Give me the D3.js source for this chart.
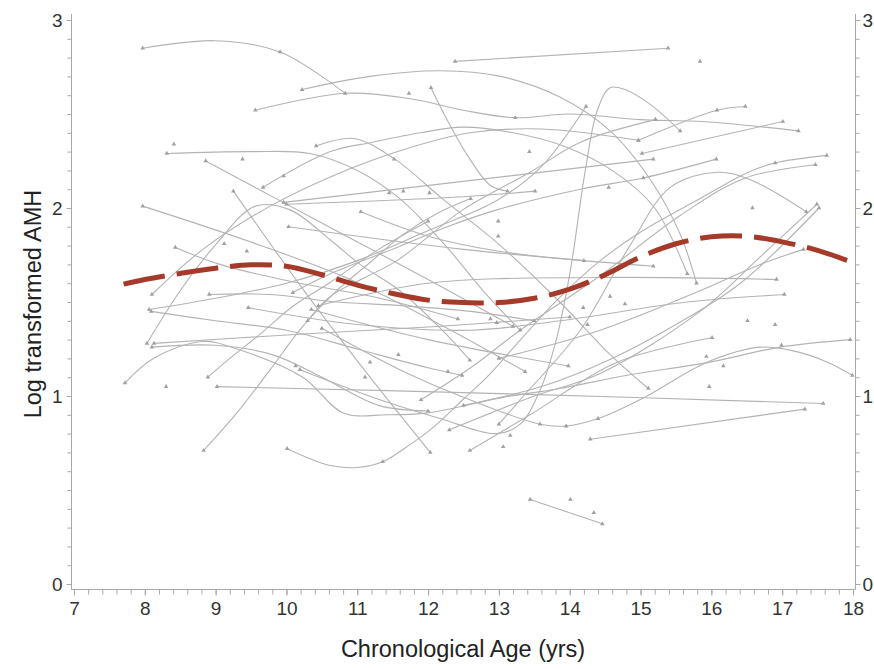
<!DOCTYPE html>
<html>
<head>
<meta charset="utf-8">
<script src="https://cdn.jsdelivr.net/npm/d3@7"></script>
<style>
  body { margin: 0; background: #fff; }
  text { font-family: "Liberation Sans", Arial, sans-serif; }
</style>
</head>
<body>
<div id="root"></div>
<script>
const width = 874;
const height = 669;

// individual subject trajectories: [age (yrs), log AMH]
const subjects = [
	[[7.97, 2.85], [8.99, 2.89], [9.91, 2.83], [10.83, 2.61]],
	[[12.38, 2.78], [15.39, 2.85]],
	[[10.22, 2.63], [11.18, 2.70], [12.17, 2.73], [13.02, 2.70], [13.86, 2.59], [14.57, 2.41], [15.14, 2.15], [15.56, 1.86], [15.79, 1.60]],
	[[9.56, 2.52], [10.83, 2.61], [11.77, 2.58], [12.5, 2.52], [13.23, 2.48], [14.0, 2.50], [14.99, 2.47], [15.88, 2.46], [17.23, 2.41]],
	[[12.04, 2.64], [12.31, 2.44], [12.59, 2.26], [12.88, 2.12], [13.12, 2.09]],
	[[10.19, 1.14], [11.32, 0.98], [12.17, 0.88], [12.97, 0.80], [13.30, 0.85], [13.58, 1.03], [13.81, 1.30], [14.01, 1.67], [14.22, 2.20], [14.39, 2.52], [14.57, 2.64], [14.78, 2.63], [15.14, 2.55], [15.56, 2.41]],
	[[10.01, 0.72], [10.62, 0.63], [11.0, 0.62], [11.36, 0.65], [11.70, 0.73], [12.03, 0.82], [12.49, 0.98], [12.83, 1.10], [13.26, 1.28], [13.82, 1.51], [14.43, 1.72], [14.99, 1.87], [15.84, 2.05], [16.52, 2.19], [16.90, 2.24], [17.63, 2.28]],
	[[9.02, 1.05], [13.3, 1.01], [17.58, 0.96]],
	[[14.29, 0.77], [17.32, 0.93]],
	[[10.5, 1.36], [11.6, 1.14], [12.59, 0.98], [13.58, 0.85], [13.94, 0.84], [14.40, 0.88], [15.04, 0.99], [15.94, 1.18], [16.69, 1.26], [17.16, 1.24], [17.64, 1.18], [17.99, 1.11]],
	[[7.72, 1.07], [8.12, 1.20], [8.82, 1.29], [9.30, 1.25], [10.23, 1.10], [10.80, 0.91], [11.42, 0.90], [12.0, 0.91], [13.02, 0.99], [13.86, 1.04], [14.81, 1.11], [15.98, 1.18], [16.97, 1.26], [17.96, 1.30]],
	[[12.59, 0.71], [13.44, 0.90], [14.67, 1.18], [16.01, 1.31]],
	[[10.42, 2.33], [10.95, 2.37], [11.53, 2.26], [12.2, 2.05], [13.02, 1.80], [13.86, 1.50], [14.57, 1.22], [15.11, 1.04]],
	[[11.9, 0.98], [12.6, 1.15], [13.3, 1.35], [14.43, 1.64], [15.56, 1.96], [16.48, 2.16], [17.47, 2.23]],
	[[13.0, 0.85], [13.30, 0.98], [14.15, 1.35], [14.85, 1.80], [15.42, 2.11], [16.08, 2.19], [16.55, 2.15], [17.34, 1.98]],
	[[12.3, 0.82], [13.5, 1.0], [14.43, 1.12], [15.84, 1.45], [16.69, 1.74], [17.49, 2.02]],
	[[12.5, 0.95], [13.6, 1.05], [14.6, 1.2], [15.5, 1.38], [16.41, 1.6], [17.52, 2.0]],
	[[10.09, 1.55], [10.62, 1.65], [11.56, 1.79], [12.27, 1.90], [12.97, 1.99], [14.15, 2.10], [15.04, 2.16], [16.07, 2.26]],
	[[15.02, 2.29], [17.01, 2.46]],
	[[13.0, 1.2], [14.43, 1.35], [15.84, 1.56], [16.69, 1.70], [17.30, 1.78]],
	[[10.03, 1.90], [12.5, 1.78], [15.18, 1.69]],
	[[10.45, 1.48], [12.0, 1.60], [14.4, 1.63], [16.92, 1.62]],
	[[9.46, 1.47], [11.0, 1.38], [12.59, 1.35], [13.86, 1.40], [15.66, 1.50], [17.03, 1.54]],
	[[9.25, 2.09], [10.23, 1.57], [11.18, 1.10], [12.03, 0.70]],
	[[7.97, 2.01], [9.49, 1.82], [10.90, 1.62], [12.17, 1.38], [13.37, 1.13]],
	[[8.43, 1.79], [9.06, 1.70], [10.05, 1.61], [11.32, 1.52], [12.42, 1.41]],
	[[8.03, 1.28], [8.50, 1.56], [8.99, 1.80], [9.56, 2.01], [10.05, 1.99], [10.62, 1.83], [11.04, 1.70], [11.60, 1.56], [12.2, 1.35], [12.59, 1.19]],
	[[8.31, 2.29], [9.5, 2.30], [10.33, 2.29], [11.0, 2.2], [11.6, 2.05], [12.2, 1.82], [12.8, 1.55], [13.3, 1.35]],
	[[8.86, 2.25], [10.5, 1.92], [12.0, 1.62], [13.2, 1.37]],
	[[9.67, 2.11], [10.62, 2.30], [11.22, 2.35], [11.89, 2.40], [12.49, 2.43], [13.20, 2.40], [13.91, 2.33], [14.6, 2.2], [15.2, 2.0], [15.66, 1.65]],
	[[8.10, 1.54], [8.82, 1.78], [9.77, 2.01], [10.71, 2.18], [11.65, 2.31], [12.59, 2.40], [13.6, 2.42], [14.97, 2.36]],
	[[14.97, 2.36], [16.08, 2.52], [16.48, 2.54]],
	[[9.96, 2.03], [15.18, 2.26]],
	[[10.0, 2.02], [12.5, 2.06], [13.51, 2.09]],
	[[11.05, 1.98], [12.0, 1.85], [13.0, 1.77], [14.2, 1.72]],
	[[8.13, 1.28], [10.24, 1.33], [12.12, 1.37], [14.0, 1.42]],
	[[8.10, 1.26], [9.0, 1.27], [9.8, 1.22], [10.5, 1.10], [11.3, 0.95], [12.0, 0.92]],
	[[10.35, 1.46], [12.0, 1.30], [13.98, 1.16]],
	[[10.3, 1.40], [10.62, 1.53], [11.56, 1.72], [12.49, 1.99], [13.44, 2.19], [14.15, 2.35], [15.21, 2.47]],
	[[8.06, 1.46], [9.0, 1.52], [10.0, 1.6], [11.0, 1.72], [12.0, 1.88], [12.97, 2.04], [13.6, 2.22], [14.23, 2.54]],
	[[13.44, 0.45], [14.46, 0.32]],
	[[8.83, 0.71], [9.30, 0.91], [9.77, 1.14], [10.23, 1.37], [10.71, 1.56], [11.18, 1.71], [11.65, 1.86], [12.12, 1.97], [12.6, 2.05]],
	[[8.89, 1.10], [9.20, 1.20], [9.6, 1.32], [10.1, 1.48], [10.6, 1.6], [11.3, 1.78], [12.0, 1.93]],
	[[8.91, 1.54], [9.77, 1.54], [10.71, 1.50], [11.65, 1.48], [12.6, 1.45], [13.5, 1.40]],
	[[8.09, 1.45], [9.0, 1.40], [10.0, 1.35], [11.0, 1.25], [12.0, 1.15], [12.48, 1.11]]
];

// observations that are not curve end points
const extraObs = [
	[15.84, 2.78], [16.58, 2.00], [9.12, 1.81], [9.44, 1.77], [8.41, 2.34], [9.38, 2.26],
	[9.96, 2.17], [8.30, 1.05], [10.13, 1.16], [14.01, 0.45], [14.34, 0.38], [16.51, 1.40],
	[16.90, 1.38], [15.93, 1.21], [16.17, 1.16], [15.97, 1.05], [13.16, 0.79], [13.06, 0.73],
	[13.95, 0.84], [12.28, 1.13], [11.18, 1.18], [11.11, 1.10], [12.99, 1.93], [12.99, 1.85],
	[13.43, 2.30], [11.52, 2.26], [12.02, 2.08], [13.23, 2.48], [11.73, 2.61], [9.91, 2.83],
	[14.78, 1.49], [14.57, 1.53], [14.19, 1.47], [12.88, 1.41], [12.97, 1.39], [14.25, 1.38],
	[15.21, 2.47], [16.08, 2.52], [14.55, 2.11], [16.99, 1.27], [11.36, 0.65], [14.40, 0.88],
	[13.58, 0.85], [16.90, 2.24], [15.04, 2.16], [11.45, 2.08], [11.65, 2.09], [11.58, 1.22]
];

// population mean curve
const meanAge = [7.7, 8, 8.5, 9, 9.5, 10, 10.5, 11, 11.5, 12, 12.5, 13, 13.5, 14, 14.5, 15, 15.5, 16, 16.5, 17, 17.5, 18];
const meanAMH = [1.595, 1.62, 1.652, 1.68, 1.698, 1.69, 1.645, 1.59, 1.545, 1.51, 1.497, 1.497, 1.52, 1.568, 1.645, 1.74, 1.81, 1.847, 1.85, 1.82, 1.775, 1.71];

const xTicks = [7, 8, 9, 10, 11, 12, 13, 14, 15, 16, 17, 18];
const yTicks = [0, 1, 2, 3];

const x = d3.scaleLinear().domain([7, 18]).range([74, 853]);
const y = d3.scaleLinear().domain([0, 3]).range([584, 20]);

const axisLeftX = 71.5, axisRightX = 855.5, axisBottomY = 589.5, axisTopY = 14;
const axisColor = "#a8a8a8";
const labelColor = "#333";
const tickFont = "19px";

const svg = d3.select("#root").append("svg")
	.attr("width", width)
	.attr("height", height);

// axes
const xMinor = d3.range(7, 18.001, 0.2).map(v => +v.toFixed(1));
const yMinor = d3.range(0, 3.001, 0.1).map(v => +v.toFixed(1));

const bottom = svg.append("g")
	.attr("transform", `translate(0, ${axisBottomY})`);
bottom.call(d3.axisBottom(x).tickValues(xMinor).tickSize(5).tickFormat(""));
bottom.call(g => g.select(".domain").remove());
bottom.append("g")
	.call(d3.axisBottom(x).tickValues(xTicks).tickSize(6).tickPadding(6).tickFormat(d3.format("d")))
	.call(g => g.select(".domain").remove())
	.call(g => g.selectAll("text").attr("fill", labelColor).style("font-size", tickFont));
bottom.selectAll("line").attr("stroke", axisColor);
bottom.append("line")
	.attr("x1", axisLeftX).attr("x2", axisRightX)
	.attr("stroke", axisColor);

const left = svg.append("g")
	.attr("transform", `translate(${axisLeftX}, 0)`);
left.call(d3.axisLeft(y).tickValues(yMinor).tickSize(4).tickFormat(""));
left.append("g")
	.call(d3.axisLeft(y).tickValues(yTicks).tickSize(5).tickPadding(4).tickFormat(d3.format("d")))
	.call(g => g.selectAll("text").attr("fill", labelColor).style("font-size", tickFont));
left.selectAll(".domain").remove();
left.selectAll("line").attr("stroke", axisColor);
left.append("line")
	.attr("y1", axisTopY).attr("y2", axisBottomY)
	.attr("stroke", axisColor);

const right = svg.append("g")
	.attr("transform", `translate(${axisRightX}, 0)`);
right.call(d3.axisRight(y).tickValues(yMinor).tickSize(4).tickFormat(""));
right.append("g")
	.call(d3.axisRight(y).tickValues(yTicks).tickSize(5).tickPadding(2).tickFormat(d3.format("d")))
	.call(g => g.selectAll("text").attr("fill", labelColor).style("font-size", tickFont));
right.selectAll(".domain").remove();
right.selectAll("line").attr("stroke", axisColor);
right.append("line")
	.attr("y1", axisTopY).attr("y2", axisBottomY)
	.attr("stroke", axisColor);

// titles
svg.append("text")
	.attr("x", 463)
	.attr("y", 657)
	.attr("text-anchor", "middle")
	.attr("fill", "#222")
	.style("font-size", "23.5px")
	.text("Chronological Age (yrs)");

svg.append("text")
	.attr("transform", `translate(41, ${304}) rotate(-90)`)
	.attr("text-anchor", "middle")
	.attr("fill", "#222")
	.style("font-size", "23.5px")
	.text("Log transformed AMH");

// subject curves
const line = d3.line()
	.x(d => x(d[0]))
	.y(d => y(d[1]))
	.curve(d3.curveCatmullRom.alpha(0.5));

svg.append("g")
	.selectAll("path")
	.data(subjects).enter()
	.append("path")
		.attr("d", line)
		.attr("fill", "none")
		.attr("stroke", "#b3b3b3")
		.attr("stroke-width", 1.1);

// observation markers
const obs = subjects.flatMap(s => [s[0], s[s.length - 1]]).concat(extraObs);
const tri = d3.symbol().type(d3.symbolTriangle).size(9);
svg.append("g")
	.selectAll("path")
	.data(obs).enter()
	.append("path")
		.attr("d", tri)
		.attr("transform", d => `translate(${x(d[0])}, ${y(d[1])})`)
		.attr("fill", "#a0a0a0");

// mean curve
const meanData = meanAge.map((a, i) => [a, meanAMH[i]]);
svg.append("path")
	.datum(meanData)
	.attr("d", d3.line().x(d => x(d[0])).y(d => y(d[1])).curve(d3.curveCatmullRom.alpha(0.5)))
	.attr("fill", "none")
	.attr("stroke", "#a53a2b")
	.attr("stroke-width", 5)
	.attr("stroke-dasharray", "42 12");
</script>
</body>
</html>
